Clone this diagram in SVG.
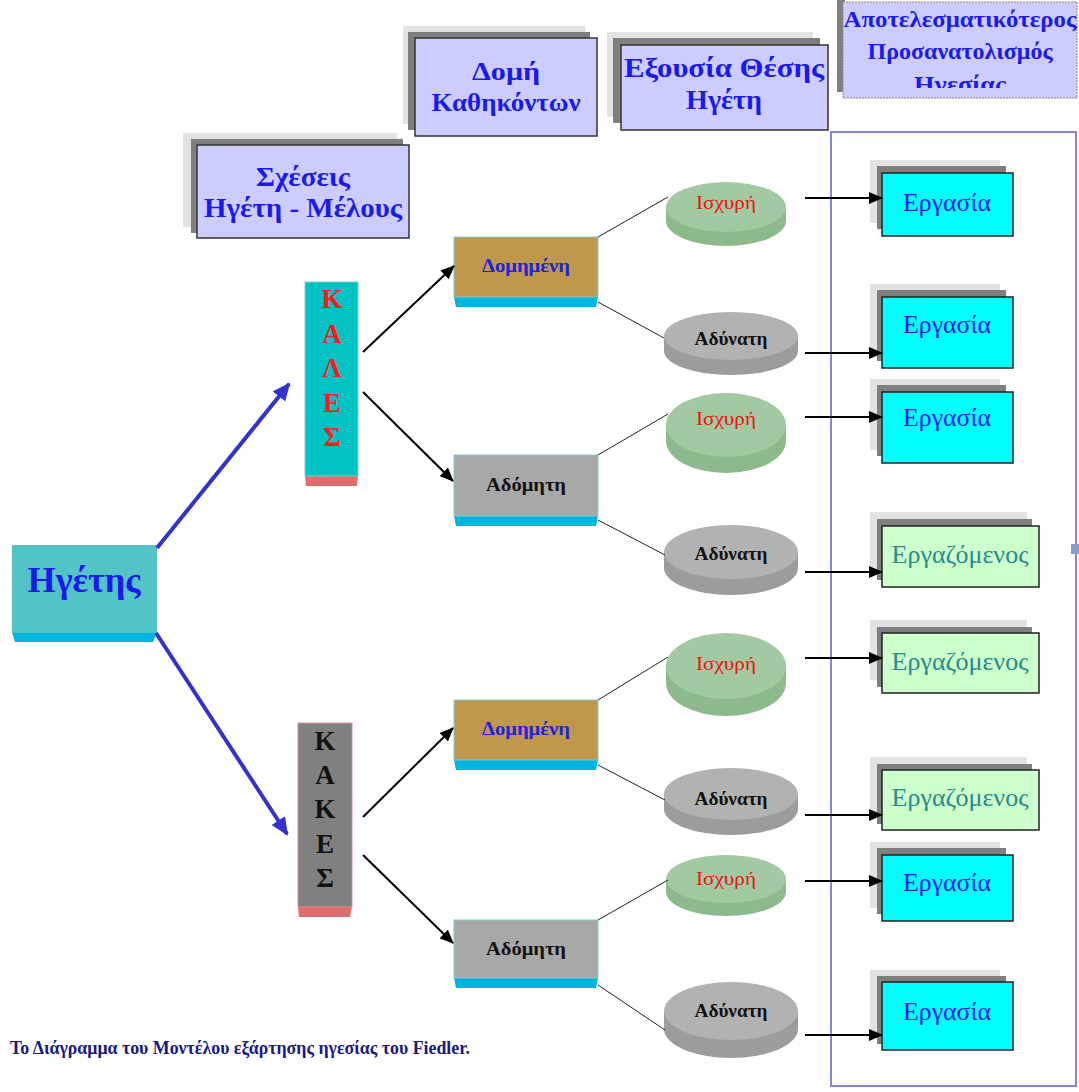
<svg xmlns="http://www.w3.org/2000/svg" width="1079" height="1092" viewBox="0 0 1079 1092">
<defs>
<style>
.hdr{fill:#ccccff;stroke:#333;stroke-width:1.5}
.shL{fill:#e2e2e2}
.shD{fill:#7f7f7f}
.ht{font-family:"Liberation Serif","DejaVu Serif",serif;font-weight:bold;fill:#1a1aee;text-anchor:middle}
.rw{fill:#00ffff;stroke:#222;stroke-width:1.5}
.rz{fill:#ccffcc;stroke:#222;stroke-width:1.5}
.rt{font-family:"Liberation Serif","DejaVu Serif",serif;font-size:25px;text-anchor:middle}
.lt{font-family:"Liberation Serif","DejaVu Serif",serif;font-weight:bold;font-size:27px;text-anchor:middle}
.bt{font-family:"Liberation Serif","DejaVu Serif",serif;font-weight:bold;font-size:19px;text-anchor:middle}
.et{font-family:"Liberation Serif","DejaVu Serif",serif;font-size:19px;text-anchor:middle}
.gTop{fill:#a2c9a2}
.gSide{fill:#8db98d}
.aTop{fill:#b2b2b2}
.aSide{fill:#9c9c9c}
.band{fill:#00b4e0}
.rb{fill:#e06c6c}
.blk{stroke:#000;stroke-width:2;fill:none;marker-end:url(#ah)}
.thin{stroke:#222;stroke-width:1;fill:none}
.blu{stroke:#3333cc;stroke-width:4;fill:none;marker-end:url(#bh)}
</style>
<marker id="ah" markerWidth="14" markerHeight="12" refX="13" refY="6" orient="auto" markerUnits="userSpaceOnUse">
<path d="M0,0 L14,6 L0,12 Z" fill="#000"/>
</marker>
<marker id="bh" markerWidth="18" markerHeight="16" refX="16" refY="8" orient="auto" markerUnits="userSpaceOnUse">
<path d="M0,0 L18,8 L0,16 Z" fill="#3333cc"/>
</marker>
<clipPath id="clip4"><rect x="843" y="0" width="236" height="88"/></clipPath>
</defs>
<rect x="0" y="0" width="1079" height="1092" fill="#fff"/>

<!-- big frame -->
<rect id="frame" x="831" y="132" width="245" height="954" fill="none" stroke="#8585e6" stroke-width="2"/>
<rect x="1071" y="544" width="8" height="10" fill="#8a9ccc"/>

<!-- header boxes -->
<g id="h1">
<rect class="shL" x="183" y="133" width="214" height="94"/>
<rect class="shD" x="191" y="139" width="212" height="94"/>
<rect class="hdr" x="197" y="145" width="212" height="93"/>
<text class="ht" x="303" y="186" font-size="27" textLength="94" lengthAdjust="spacingAndGlyphs">Σχέσεις</text>
<text class="ht" x="303" y="217" font-size="27" textLength="198" lengthAdjust="spacingAndGlyphs">Ηγέτη - Μέλους</text>
</g>
<g id="h2">
<rect class="shL" x="403" y="26" width="182" height="98"/>
<rect class="shD" x="408" y="32" width="182" height="98"/>
<rect class="hdr" x="415" y="38" width="182" height="98"/>
<text class="ht" x="506" y="80" font-size="26" textLength="68" lengthAdjust="spacingAndGlyphs">Δομή</text>
<text class="ht" x="506" y="111" font-size="26" textLength="149" lengthAdjust="spacingAndGlyphs">Καθηκόντων</text>
</g>
<g id="h3">
<rect class="shL" x="607" y="32" width="206" height="85"/>
<rect class="shD" x="613" y="38" width="207" height="85"/>
<rect class="hdr" x="621" y="45" width="207" height="85"/>
<text class="ht" x="724" y="77" font-size="27" textLength="200" lengthAdjust="spacingAndGlyphs">Εξουσία Θέσης</text>
<text class="ht" x="724" y="109" font-size="27" textLength="76" lengthAdjust="spacingAndGlyphs">Ηγέτη</text>
</g>
<g id="h4">
<rect class="shD" x="837" y="0" width="8" height="92"/>
<rect x="843" y="2" width="234" height="96" fill="#ccccff" stroke="#888" stroke-width="1" stroke-dasharray="2,1"/>
<g clip-path="url(#clip4)">
<text class="ht" x="960" y="27" font-size="24" textLength="233" lengthAdjust="spacingAndGlyphs">Αποτελεσματικότερος</text>
<text class="ht" x="960" y="59" font-size="24" textLength="185" lengthAdjust="spacingAndGlyphs">Προσανατολισμός</text>
<text class="ht" x="960" y="92" font-size="24" textLength="92" lengthAdjust="spacingAndGlyphs">Ηγεσίας</text>
</g>
</g>

<!-- leader -->
<g id="leader">
<polygon class="band" points="12,632 157,632 153,642 15,642"/>
<rect x="12" y="545" width="145" height="88" fill="#52c3c6"/>
<text x="84" y="592" font-family="Liberation Serif,DejaVu Serif,serif" font-size="36" font-weight="bold" fill="#1a1aee" text-anchor="middle" textLength="113" lengthAdjust="spacingAndGlyphs">Ηγέτης</text>
</g>

<g id="kales">
<polygon class="rb" points="305,476 358,476 357,486 306,486"/>
<rect x="305" y="282" width="53" height="194" fill="#00c2c2" stroke="#7fcfcf" stroke-width="1"/>
<text class="lt" fill="#ff1a1a" x="332" y="308">Κ</text>
<text class="lt" fill="#ff1a1a" x="332" y="343">Α</text>
<text class="lt" fill="#ff1a1a" x="332" y="377">Λ</text>
<text class="lt" fill="#ff1a1a" x="332" y="412">Ε</text>
<text class="lt" fill="#ff1a1a" x="332" y="446">Σ</text>
</g>
<g id="kakes">
<polygon class="rb" points="298,907 352,907 350,917 299,917"/>
<rect x="298" y="723" width="54" height="184" fill="#808080" stroke="#d89090" stroke-width="1"/>
<text class="lt" fill="#111" x="325" y="750">Κ</text>
<text class="lt" fill="#111" x="325" y="784">Α</text>
<text class="lt" fill="#111" x="325" y="818">Κ</text>
<text class="lt" fill="#111" x="325" y="853">Ε</text>
<text class="lt" fill="#111" x="325" y="887">Σ</text>
</g>

<!-- structure boxes -->
<g id="dom1">
<polygon class="band" points="454,297 598,297 596,307 456,307"/>
<rect x="454" y="237" width="144" height="60" fill="#c0974c" stroke="#80cccc" stroke-width="1"/>
<text class="bt" fill="#2222dd" x="526" y="272" textLength="88" lengthAdjust="spacingAndGlyphs">Δομημένη</text>
</g>
<g id="ado1">
<polygon class="band" points="454,516 598,516 596,526 456,526"/>
<rect x="454" y="455" width="144" height="61" fill="#a8a8a8" stroke="#80cccc" stroke-width="1"/>
<text class="bt" fill="#111" x="526" y="491" textLength="80" lengthAdjust="spacingAndGlyphs">Αδόμητη</text>
</g>
<g id="dom2">
<polygon class="band" points="454,760 598,760 596,770 456,770"/>
<rect x="454" y="700" width="144" height="60" fill="#c0974c" stroke="#80cccc" stroke-width="1"/>
<text class="bt" fill="#2222dd" x="526" y="735" textLength="88" lengthAdjust="spacingAndGlyphs">Δομημένη</text>
</g>
<g id="ado2">
<polygon class="band" points="454,978 598,978 596,988 456,988"/>
<rect x="454" y="920" width="144" height="58" fill="#a8a8a8" stroke="#80cccc" stroke-width="1"/>
<text class="bt" fill="#111" x="526" y="955" textLength="80" lengthAdjust="spacingAndGlyphs">Αδόμητη</text>
</g>

<!-- ellipses -->
<g id="e1">
<ellipse class="gSide" cx="726" cy="221" rx="60" ry="25"/>
<rect class="gSide" x="666" y="207" width="120" height="14"/>
<ellipse class="gTop" cx="726" cy="207" rx="60" ry="25"/>
<text class="et" fill="#ee1111" x="726" y="209" textLength="60" lengthAdjust="spacingAndGlyphs">Ισχυρή</text>
</g>
<g id="e2">
<ellipse class="aSide" cx="731" cy="351" rx="67" ry="24"/>
<rect class="aSide" x="664" y="336" width="134" height="15"/>
<ellipse class="aTop" cx="731" cy="336" rx="67" ry="24"/>
<text class="et" font-weight="bold" fill="#111" x="731" y="345" textLength="73" lengthAdjust="spacingAndGlyphs">Αδύνατη</text>
</g>
<g id="e3">
<ellipse class="gSide" cx="726" cy="441" rx="60" ry="32"/>
<rect class="gSide" x="666" y="425" width="120" height="16"/>
<ellipse class="gTop" cx="726" cy="425" rx="60" ry="32"/>
<text class="et" fill="#ee1111" x="726" y="425" textLength="60" lengthAdjust="spacingAndGlyphs">Ισχυρή</text>
</g>
<g id="e4">
<ellipse class="aSide" cx="731" cy="568" rx="67" ry="27"/>
<rect class="aSide" x="664" y="552" width="134" height="16"/>
<ellipse class="aTop" cx="731" cy="552" rx="67" ry="27"/>
<text class="et" font-weight="bold" fill="#111" x="731" y="560" textLength="73" lengthAdjust="spacingAndGlyphs">Αδύνατη</text>
</g>
<g id="e5">
<ellipse class="gSide" cx="726" cy="683" rx="60" ry="33"/>
<rect class="gSide" x="666" y="666" width="120" height="17"/>
<ellipse class="gTop" cx="726" cy="666" rx="60" ry="33"/>
<text class="et" fill="#ee1111" x="726" y="670" textLength="60" lengthAdjust="spacingAndGlyphs">Ισχυρή</text>
</g>
<g id="e6">
<ellipse class="aSide" cx="731" cy="809" rx="67" ry="26"/>
<rect class="aSide" x="664" y="794" width="134" height="15"/>
<ellipse class="aTop" cx="731" cy="794" rx="67" ry="26"/>
<text class="et" font-weight="bold" fill="#111" x="731" y="805" textLength="73" lengthAdjust="spacingAndGlyphs">Αδύνατη</text>
</g>
<g id="e7">
<ellipse class="gSide" cx="726" cy="892" rx="60" ry="24"/>
<rect class="gSide" x="666" y="879" width="120" height="13"/>
<ellipse class="gTop" cx="726" cy="879" rx="60" ry="24"/>
<text class="et" fill="#ee1111" x="726" y="885" textLength="60" lengthAdjust="spacingAndGlyphs">Ισχυρή</text>
</g>
<g id="e8">
<ellipse class="aSide" cx="731" cy="1029" rx="67" ry="29"/>
<rect class="aSide" x="664" y="1011" width="134" height="18"/>
<ellipse class="aTop" cx="731" cy="1011" rx="67" ry="29"/>
<text class="et" font-weight="bold" fill="#111" x="731" y="1017" textLength="73" lengthAdjust="spacingAndGlyphs">Αδύνατη</text>
</g>

<!-- result boxes -->
<g id="r1">
<rect class="shL" x="870" y="160" width="130" height="63"/>
<rect class="shD" x="877" y="166" width="129" height="63"/>
<rect class="rw" x="882" y="173" width="131" height="63"/>
<text class="rt" fill="#1a1aee" x="947" y="211" textLength="88" lengthAdjust="spacingAndGlyphs">Εργασία</text>
</g>
<g id="r2">
<rect class="shL" x="870" y="284" width="130" height="71"/>
<rect class="shD" x="877" y="290" width="129" height="71"/>
<rect class="rw" x="882" y="297" width="131" height="71"/>
<text class="rt" fill="#1a1aee" x="947" y="333" textLength="88" lengthAdjust="spacingAndGlyphs">Εργασία</text>
</g>
<g id="r3">
<rect class="shL" x="870" y="379" width="130" height="71"/>
<rect class="shD" x="877" y="385" width="129" height="71"/>
<rect class="rw" x="882" y="392" width="131" height="71"/>
<text class="rt" fill="#1a1aee" x="947" y="426" textLength="88" lengthAdjust="spacingAndGlyphs">Εργασία</text>
</g>
<g id="r4">
<rect class="shL" x="870" y="512" width="157" height="61"/>
<rect class="shD" x="877" y="519" width="155" height="61"/>
<rect class="rz" x="882" y="526" width="157" height="61"/>
<text class="rt" fill="#2a8a8a" x="960" y="563" textLength="137" lengthAdjust="spacingAndGlyphs">Εργαζόμενος</text>
</g>
<g id="r5">
<rect class="shL" x="870" y="620" width="157" height="60"/>
<rect class="shD" x="877" y="627" width="155" height="60"/>
<rect class="rz" x="882" y="633" width="157" height="60"/>
<text class="rt" fill="#2a8a8a" x="960" y="670" textLength="137" lengthAdjust="spacingAndGlyphs">Εργαζόμενος</text>
</g>
<g id="r6">
<rect class="shL" x="870" y="757" width="157" height="60"/>
<rect class="shD" x="877" y="764" width="155" height="60"/>
<rect class="rz" x="882" y="770" width="157" height="60"/>
<text class="rt" fill="#2a8a8a" x="960" y="806" textLength="137" lengthAdjust="spacingAndGlyphs">Εργαζόμενος</text>
</g>
<g id="r7">
<rect class="shL" x="870" y="842" width="130" height="66"/>
<rect class="shD" x="877" y="848" width="129" height="66"/>
<rect class="rw" x="882" y="855" width="131" height="66"/>
<text class="rt" fill="#1a1aee" x="947" y="891" textLength="88" lengthAdjust="spacingAndGlyphs">Εργασία</text>
</g>
<g id="r8">
<rect class="shL" x="870" y="970" width="130" height="68"/>
<rect class="shD" x="877" y="976" width="129" height="68"/>
<rect class="rw" x="882" y="982" width="131" height="68"/>
<text class="rt" fill="#1a1aee" x="947" y="1020" textLength="88" lengthAdjust="spacingAndGlyphs">Εργασία</text>
</g>

<!-- connectors -->
<g id="connectors">
<line class="blu" x1="157" y1="548" x2="289" y2="384"/>
<line class="blu" x1="156" y1="633" x2="287" y2="834"/>
<line class="blk" x1="363" y1="352" x2="454" y2="266"/>
<line class="blk" x1="363" y1="392" x2="453" y2="481"/>
<line class="blk" x1="363" y1="817" x2="453" y2="728"/>
<line class="blk" x1="363" y1="855" x2="453" y2="943"/>
<line class="thin" x1="598" y1="237" x2="668" y2="197"/>
<line class="thin" x1="598" y1="302" x2="664" y2="338"/>
<line class="thin" x1="598" y1="455" x2="668" y2="414"/>
<line class="thin" x1="598" y1="520" x2="665" y2="555"/>
<line class="thin" x1="598" y1="700" x2="668" y2="657"/>
<line class="thin" x1="598" y1="765" x2="665" y2="800"/>
<line class="thin" x1="598" y1="920" x2="668" y2="880"/>
<line class="thin" x1="598" y1="985" x2="665" y2="1030"/>
<line class="blk" x1="805" y1="198" x2="882" y2="198"/>
<line class="blk" x1="805" y1="353" x2="882" y2="353"/>
<line class="blk" x1="805" y1="417" x2="882" y2="417"/>
<line class="blk" x1="805" y1="572" x2="882" y2="572"/>
<line class="blk" x1="805" y1="658" x2="882" y2="658"/>
<line class="blk" x1="805" y1="815" x2="882" y2="815"/>
<line class="blk" x1="805" y1="881" x2="882" y2="881"/>
<line class="blk" x1="805" y1="1035" x2="882" y2="1035"/>
</g>

<text x="10" y="1054" font-family="Liberation Serif,DejaVu Serif,serif" font-size="19" font-weight="bold" fill="#1a1a80" textLength="460" lengthAdjust="spacingAndGlyphs">Το Διάγραμμα του Μοντέλου εξάρτησης ηγεσίας του Fiedler.</text>
</svg>
